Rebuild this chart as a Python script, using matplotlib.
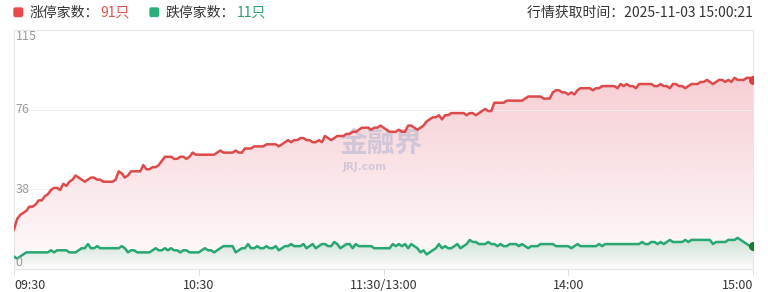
import numpy as np
import matplotlib
matplotlib.use("Agg")
import matplotlib.pyplot as plt
from matplotlib.patches import FancyBboxPatch, Polygon
from matplotlib.transforms import blended_transform_factory

plt.rcParams['font.family'] = ['Noto Sans CJK SC', 'DejaVu Sans']

# limit-up count per minute (09:30 .. 11:30/13:00 .. 15:00)
up_counts = [
    19, 24, 26, 27, 28, 30, 30, 31, 33, 33,
    35, 36, 38, 39, 39, 38, 41, 40, 42, 43,
    45, 44, 43, 42, 43, 44, 44, 43, 43, 42,
    42, 42, 42, 43, 47, 46, 44, 45, 47, 47,
    47, 47, 50, 48, 48, 49, 49, 50, 52, 54,
    54, 54, 53, 53, 54, 54, 53, 54, 56, 55,
    55, 55, 55, 55, 55, 55, 56, 57, 56, 56,
    56, 56, 57, 56, 56, 58, 58, 58, 59, 59,
    59, 59, 60, 60, 60, 60, 59, 60, 61, 62,
    61, 62, 62, 63, 63, 62, 62, 61, 61, 62,
    61, 64, 63, 62, 63, 64, 64, 64, 65, 65,
    66, 66, 67, 68, 68, 68, 67, 68, 68, 69,
    68, 67, 66, 66, 66, 67, 66, 66, 69, 69,
    68, 67, 68, 69, 71, 72, 73, 73, 74, 72,
    74, 74, 75, 75, 75, 75, 75, 74, 75, 75,
    74, 75, 76, 77, 76, 76, 80, 80, 80, 80,
    81, 81, 81, 81, 81, 81, 82, 83, 83, 83,
    83, 83, 82, 82, 82, 85, 86, 86, 85, 85,
    84, 85, 84, 86, 87, 87, 87, 87, 86, 87,
    87, 88, 88, 88, 88, 88, 87, 89, 88, 89,
    88, 88, 87, 89, 89, 89, 89, 89, 88, 88,
    89, 88, 88, 87, 89, 89, 88, 88, 87, 88,
    89, 89, 89, 90, 90, 91, 90, 89, 90, 91,
    91, 90, 91, 90, 92, 91, 91, 91, 92, 92,
    91,
]

# limit-down count per minute
down_counts = [
    6, 5, 6, 7, 8, 8, 8, 8, 8, 8,
    8, 8, 9, 8, 9, 9, 9, 9, 8, 8,
    8, 9, 10, 10, 12, 10, 10, 11, 10, 10,
    10, 10, 10, 10, 10, 11, 10, 8, 9, 9,
    8, 8, 8, 8, 8, 9, 10, 9, 9, 10,
    9, 10, 9, 9, 8, 9, 9, 8, 8, 8,
    8, 9, 10, 9, 9, 8, 9, 10, 11, 11,
    11, 11, 8, 9, 10, 10, 12, 10, 10, 11,
    10, 10, 11, 10, 10, 11, 9, 10, 11, 11,
    12, 11, 11, 11, 12, 10, 11, 12, 10, 11,
    12, 12, 11, 11, 13, 12, 10, 11, 12, 12,
    10, 12, 11, 11, 11, 11, 11, 10, 10, 10,
    10, 10, 10, 12, 11, 12, 11, 12, 10, 12,
    11, 10, 8, 9, 7, 8, 9, 10, 12, 10,
    11, 10, 10, 11, 12, 10, 11, 12, 14, 13,
    13, 12, 12, 12, 13, 12, 12, 11, 12, 11,
    11, 12, 12, 12, 11, 12, 11, 10, 11, 11,
    11, 12, 12, 12, 12, 12, 11, 11, 11, 11,
    11, 10, 11, 12, 11, 11, 11, 11, 11, 11,
    12, 11, 12, 12, 12, 12, 12, 12, 12, 12,
    12, 12, 12, 12, 13, 12, 12, 13, 13, 12,
    13, 12, 13, 14, 13, 13, 13, 13, 14, 13,
    14, 14, 14, 14, 14, 14, 14, 12, 13, 13,
    13, 13, 14, 14, 14, 15, 14, 13, 12, 11,
    11,
]

x_tick_pos = [0, 60, 120, 180, 240]
x_tick_labels = ["09:30", "10:30", "11:30/13:00", "14:00", "15:00"]
y_tick_pos = [0, 115 / 3, 230 / 3, 115]
y_tick_labels = ["0", "38", "76", "115"]

up_label = "涨停家数："
down_label = "跌停家数："
up_value = "91只"
down_value = "11只"
time_label = "行情获取时间：2025-11-03 15:00:21"

RED = "#de4a4a"
GREEN = "#27a772"


def gradient_fill(ax, x, y, color, a_top, a_bot, ymax):
    rgb = matplotlib.colors.to_rgb(color)
    grad = np.zeros((256, 1, 4))
    grad[:, :, :3] = rgb
    grad[:, 0, 3] = np.linspace(a_bot, a_top, 256)
    im = ax.imshow(grad, aspect="auto", origin="lower",
                   extent=[x[0], x[-1], 0, ymax], zorder=1)
    verts = np.vstack([[x[0], 0], np.column_stack([x, y]), [x[-1], 0]])
    clip = Polygon(verts, facecolor="none", edgecolor="none")
    ax.add_patch(clip)
    im.set_clip_path(clip)


fig = plt.figure(figsize=(7.68, 2.92), dpi=100)
ax = fig.add_axes([14 / 768, 23 / 292, 739 / 768, 239 / 292])

xs = np.arange(len(up_counts))
up = np.array(up_counts)
down = np.array(down_counts)

gradient_fill(ax, xs, up, "#e04a5e", 0.27, 0.02, up.max())
gradient_fill(ax, xs, down, "#2aa86e", 0.24, 0.0, down.max())

ax.plot(xs, up, color=RED, lw=1.8, zorder=3)
ax.plot(xs, down, color=GREEN, lw=1.8, zorder=3)
ax.plot(xs[-1], up[-1], "o", color="#e23c3c", ms=5.5, zorder=4)
ax.plot(xs[-1], down[-1], "o", color="#1a7a32", ms=5.5, zorder=4)

ax.set_xlim(0, 240)
ax.set_ylim(0, 115)
ax.set_yticks(y_tick_pos)
ax.yaxis.grid(True, color="#eeeeee", lw=0.8, zorder=0)
ax.tick_params(axis="y", left=False, labelleft=False)
ax.set_xticks(x_tick_pos)
ax.set_xticklabels(x_tick_labels, fontsize=9, color="#333333")
ax.tick_params(axis="x", length=4, color="#dddddd", pad=3)
labels = ax.get_xticklabels()
labels[0].set_ha("left")
labels[-1].set_ha("right")
for sp in ax.spines.values():
    sp.set_color("#e6e6e6")
    sp.set_linewidth(0.8)

trans = blended_transform_factory(ax.transAxes, ax.transData)
vas = ["bottom", "center", "center", "top"]
for pos, lab, va in zip(y_tick_pos, y_tick_labels, vas):
    ax.text(0.002, pos, lab, transform=trans, fontsize=9, color="#9a9a9a",
            ha="left", va=va, zorder=5)

# watermark
ax.text(0.497, 0.525, "金融界", transform=ax.transAxes, fontsize=20,
        fontweight="bold", color="#c4bed6", alpha=0.75, ha="center",
        va="center", zorder=2)
ax.text(0.475, 0.425, "JRJ.com", transform=ax.transAxes, fontsize=7.5,
        fontweight="bold", color="#c4bed6", alpha=0.75, ha="center",
        va="center", zorder=2, family="DejaVu Sans")

# header
px = fig.dpi_scale_trans
fig.patches.append(FancyBboxPatch((0.14, (292 - 16.5) / 100), 0.085, 0.085,
                                  boxstyle="round,pad=0,rounding_size=0.015",
                                  color="#e94b4b", transform=px, figure=fig))
fig.patches.append(FancyBboxPatch((1.50, (292 - 16.5) / 100), 0.085, 0.085,
                                  boxstyle="round,pad=0,rounding_size=0.015",
                                  color="#2bb07a", transform=px, figure=fig))
ty = (292 - 12.5) / 292
fig.text(30 / 768, ty, up_label, fontsize=10, color="#333333", va="center")
fig.text(100 / 768, ty, up_value, fontsize=10, color="#e05050", va="center")
fig.text(166 / 768, ty, down_label, fontsize=10, color="#333333", va="center")
fig.text(237 / 768, ty, down_value, fontsize=10, color="#2aa06a", va="center")
fig.text(753 / 768, ty, time_label, fontsize=10, color="#333333",
         va="center", ha="right")

fig.savefig("out.png", dpi=100)
